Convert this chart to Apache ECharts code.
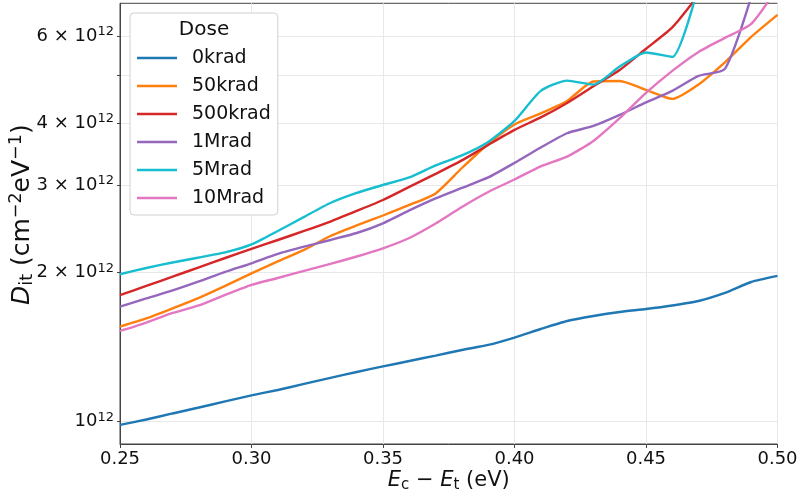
<!DOCTYPE html>
<html>
<head>
<meta charset="utf-8">
<script src="https://cdn.jsdelivr.net/npm/echarts@6/dist/echarts.min.js"></script>
<style>
html, body { margin: 0; padding: 0; background: #fff; }
#chart { width: 802px; height: 499px; }
</style>
</head>
<body>
<div id="chart"></div>
<script>
// trap energy Ec - Et (eV)
var energy = [0.25, 0.26, 0.27, 0.28, 0.29, 0.30, 0.31, 0.32, 0.33, 0.34, 0.35, 0.36, 0.37,
    0.38, 0.39, 0.40, 0.41, 0.42, 0.43, 0.44, 0.45, 0.46, 0.47, 0.48, 0.49, 0.50];

// Dit in units of 1e12 cm^-2 eV^-1 (null = past the top of the plot)
var dit0krad = [0.985, 1.010, 1.039, 1.068, 1.099, 1.130, 1.159, 1.192, 1.226, 1.260, 1.293, 1.326, 1.360,
    1.396, 1.429, 1.479, 1.539, 1.597, 1.635, 1.666, 1.689, 1.717, 1.753, 1.820, 1.915, 1.970];
var dit50krad = [1.556, 1.616, 1.693, 1.778, 1.880, 1.993, 2.107, 2.223, 2.372, 2.491, 2.609, 2.740, 2.891,
    3.254, 3.639, 3.985, 4.195, 4.445, 4.867, 4.878, 4.679, 4.487, 4.800, 5.318, 5.987, 6.632];
var dit500krad = [1.801, 1.880, 1.963, 2.050, 2.141, 2.233, 2.328, 2.428, 2.537, 2.665, 2.804, 2.980, 3.166,
    3.371, 3.622, 3.885, 4.117, 4.404, 4.761, 5.135, 5.666, 6.257, 7.28, null, null, null];
var dit1Mrad = [1.707, 1.774, 1.841, 1.920, 2.007, 2.089, 2.182, 2.257, 2.328, 2.405, 2.516, 2.671, 2.824,
    2.966, 3.114, 3.332, 3.580, 3.825, 3.957, 4.166, 4.414, 4.658, 4.993, 5.159, 7.21, null];
var dit5Mrad = [1.985, 2.044, 2.097, 2.146, 2.197, 2.280, 2.428, 2.592, 2.765, 2.897, 3.007, 3.114, 3.293,
    3.450, 3.673, 4.051, 4.658, 4.886, 4.796, 5.215, 5.570, 5.455, 7.6, null, null, null];
var dit10Mrad = [1.525, 1.586, 1.658, 1.717, 1.803, 1.889, 1.951, 2.016, 2.083, 2.156, 2.240, 2.350, 2.514,
    2.715, 2.911, 3.085, 3.278, 3.431, 3.690, 4.102, 4.613, 5.111, 5.583, 5.960, 6.361, 7.52];

var doseNames = ['0krad', '50krad', '500krad', '1Mrad', '5Mrad', '10Mrad'];
var doseColors = ['#1f77b4', '#ff7f0e', '#d62728', '#9467bd', '#17becf', '#e377c2'];
var doseData = [dit0krad, dit50krad, dit500krad, dit1Mrad, dit5Mrad, dit10Mrad];

// y ticks (x 1e12): minor grid at 5 but no label
var yTickMantissa = [1, 2, 3, 4, 5, 6];
var yLabelMantissa = [1, 2, 3, 4, 6];

var FONT = '"DejaVu Sans", sans-serif';

function toPairs(values) {
    var out = [];
    for (var i = 0; i < energy.length; i++) {
        if (values[i] != null) {
            out.push([energy[i], values[i] * 1e12]);
        }
    }
    return out;
}

var series = [];
for (var k = 0; k < doseNames.length; k++) {
    series.push({
        name: doseNames[k],
        type: 'line',
        data: toPairs(doseData[k]),
        symbol: 'none',
        smooth: 0.2,
        clip: true,
        color: doseColors[k],
        lineStyle: {width: 2.4, color: doseColors[k]},
        animation: false
    });
}

var option = {
    animation: false,
    textStyle: {fontFamily: FONT},
    grid: {
        left: 120, right: 24.5, top: 3.3, bottom: 55,
        outerBoundsMode: 'none',
        show: true, borderColor: '#444', borderWidth: 1
    },
    legend: {
        data: doseNames,
        orient: 'vertical',
        left: 130, top: 13,
        padding: [35, 7, 7, 7],
        icon: 'rect',
        itemWidth: 40, itemHeight: 2.6, itemGap: 8,
        backgroundColor: '#fff',
        borderColor: '#d0d0d0', borderWidth: 1, borderRadius: 4,
        textStyle: {fontFamily: FONT, fontSize: 19, lineHeight: 20, color: '#111', padding: [0, 0, 0, 10]}
    },
    graphic: [{
        type: 'text', z: 100,
        style: {
            text: 'Dose', x: 204, y: 30,
            textAlign: 'center', textVerticalAlign: 'middle',
            font: '20px ' + FONT, fill: '#111'
        }
    }],
    xAxis: {
        type: 'value', min: 0.25, max: 0.5, interval: 0.05,
        name: '{i|E}{sub|c} \u2212 {i|E}{sub|t} (eV)',
        nameLocation: 'middle', nameGap: 25,
        nameMoveOverlap: false,
        nameTextStyle: {
            fontFamily: FONT, fontSize: 21, color: '#111',
            rich: {
                i: {fontFamily: FONT, fontSize: 21, fontStyle: 'italic', color: '#111'},
                sub: {fontFamily: FONT, fontSize: 15, color: '#111', padding: [9, 0, 0, 0]}
            }
        },
        axisLine: {lineStyle: {color: '#444', width: 1}},
        axisTick: {length: 4, lineStyle: {color: '#444'}},
        axisLabel: {
            fontSize: 18, color: '#111', margin: 6,
            formatter: function (v) { return v.toFixed(2); }
        },
        splitLine: {show: true, lineStyle: {color: '#e8e8e8', width: 1}}
    },
    yAxis: {
        type: 'log', logBase: 10,
        min: 0.9014e12, max: 7.0e12,
        name: '{i|D}{sub|it} (cm{sup|\u22122}eV{sup|\u22121})',
        nameLocation: 'middle', nameGap: 83, nameRotate: 90,
        nameMoveOverlap: false,
        nameTextStyle: {
            fontFamily: FONT, fontSize: 25, color: '#111',
            padding: [0, 0, 0, 18],
            rich: {
                i: {fontFamily: FONT, fontSize: 25, fontStyle: 'italic', color: '#111'},
                sub: {fontFamily: FONT, fontSize: 17.5, color: '#111', padding: [10, 0, 0, 0]},
                sup: {fontFamily: FONT, fontSize: 17.5, color: '#111', padding: [0, 0, 12, 0]}
            }
        },
        axisLine: {show: true, lineStyle: {color: '#444', width: 1}},
        axisTick: {
            show: true, length: 3, lineStyle: {color: '#444'},
            customValues: yTickMantissa.map(function (m) { return m * 1e12; })
        },
        axisLabel: {
            fontSize: 18, color: '#111', margin: 6,
            customValues: yLabelMantissa.map(function (m) { return m * 1e12; }),
            formatter: function (v) {
                var m = Math.round(v / 1e12);
                if (m === 1) {
                    return '10{s|12}';
                }
                return m + ' \u00d7 10{s|12}';
            },
            rich: {
                s: {fontFamily: FONT, fontSize: 13, color: '#111', padding: [0, 0, 9, 0]}
            }
        },
        splitLine: {show: true, lineStyle: {color: '#e8e8e8', width: 1}}
    },
    series: series
};

var chart = echarts.init(document.getElementById('chart'), null, {renderer: 'canvas'});
chart.setOption(option);
</script>
</body>
</html>
